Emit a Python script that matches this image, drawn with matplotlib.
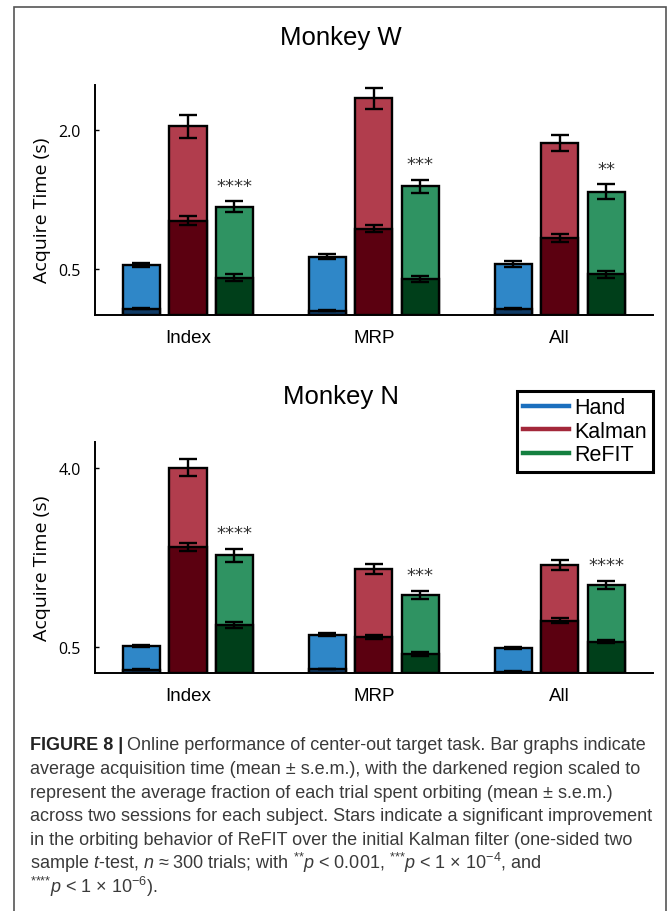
import numpy as np
import matplotlib.pyplot as plt
from matplotlib.patches import Rectangle
from matplotlib.lines import Line2D

plt.rcParams['mathtext.fontset'] = 'custom'
plt.rcParams['mathtext.rm'] = 'Liberation Sans'
plt.rcParams['mathtext.it'] = 'Liberation Sans:italic'

groups = ["Index", "MRP", "All"]
decoders = ["Hand", "Kalman", "ReFIT"]

# rows: Hand, Kalman, ReFIT ; columns: Index, MRP, All
W_total = np.array([[0.54, 0.63, 0.55],
                    [2.04, 2.34, 1.86],
                    [1.17, 1.39, 1.33]])
W_total_sem = np.array([[0.02, 0.025, 0.03],
                        [0.125, 0.11, 0.086],
                        [0.057, 0.07, 0.08]])
W_orbit = np.array([[0.07, 0.047, 0.07],
                    [1.02, 0.93, 0.83],
                    [0.405, 0.39, 0.44]])
W_orbit_sem = np.array([[0.005, 0.005, 0.005],
                        [0.045, 0.038, 0.045],
                        [0.035, 0.036, 0.04]])
W_stars = ["****", "***", "**"]

N_total = np.array([[0.53, 0.75, 0.49],
                    [4.0, 2.03, 2.1],
                    [2.29, 1.52, 1.72]])
N_total_sem = np.array([[0.02, 0.025, 0.02],
                        [0.17, 0.1, 0.1],
                        [0.13, 0.08, 0.08]])
N_orbit = np.array([[0.064, 0.078, 0.025],
                    [2.45, 0.70, 1.02],
                    [0.94, 0.37, 0.61]])
N_orbit_sem = np.array([[0.005, 0.005, 0.005],
                        [0.08, 0.04, 0.05],
                        [0.06, 0.03, 0.03]])
N_stars = ["****", "***", "****"]

light_cols = ["#2f87c8", "#b13d4d", "#2f9362"]
dark_cols = ["#0f3b66", "#5b0010", "#003f1a"]
legend_cols = ["#1b6fbe", "#a3283a", "#148040"]

W, H = 669, 912
fig = plt.figure(figsize=(W/100, H/100), dpi=100)

def panel(top, bottom, total, total_sem, orbit, orbit_sem, stars, ymax, yticks):
    ax = fig.add_axes([95/W, 1-bottom/H, (652.7-95)/W, (bottom-top)/H])
    xg = 4*np.arange(len(groups))
    for d in range(len(decoders)):
        x = xg + (d-1)
        ax.bar(x, total[d], 0.8, color=light_cols[d], edgecolor='k', lw=1.7, zorder=2)
        ax.bar(x, orbit[d], 0.8, color=dark_cols[d], edgecolor='k', lw=1.7, zorder=3)
        ax.errorbar(x, total[d], yerr=total_sem[d], fmt='none', ecolor='k',
                    elinewidth=1.7, capsize=6.5, capthick=1.7, zorder=4)
        ax.errorbar(x, orbit[d], yerr=orbit_sem[d], fmt='none', ecolor='k',
                    elinewidth=1.7, capsize=6.5, capthick=1.7, zorder=4)
    for g in range(len(groups)):
        ax.annotate(stars[g], (xg[g]+1, total[2][g]+total_sem[2][g]),
                    xytext=(0, 7.5), textcoords='offset points', ha='center',
                    va='baseline', fontsize=13, family='DejaVu Sans', color='#333333')
    ax.set_xlim(-2, 10)
    ax.set_ylim(0, ymax)
    ax.set_yticks(yticks)
    ax.set_yticklabels([f"{v:.1f}" for v in yticks], family='Open Sans', fontsize=11.5)
    ax.set_xticks(xg)
    ax.set_xticklabels(groups, family='Liberation Sans', fontsize=13.5)
    ax.tick_params(axis='x', length=0, pad=10)
    ax.tick_params(axis='y', direction='in', length=3, width=1, pad=10)
    for s in ['top', 'right']:
        ax.spines[s].set_visible(False)
    for s in ['left', 'bottom']:
        ax.spines[s].set_linewidth(1.4)
    return ax

axW = panel(86, 316, W_total, W_total_sem, W_orbit, W_orbit_sem, W_stars, 2.485, [0.5, 2.0])
axN = panel(443, 674, N_total, N_total_sem, N_orbit, N_orbit_sem, N_stars, 4.5, [0.5, 4.0])

fig.text(341/W, 1-38/H, "Monkey W", ha='center', va='center', fontsize=18.5, family='Liberation Sans')
fig.text(341/W, 1-397/H, "Monkey N", ha='center', va='center', fontsize=18.5, family='Liberation Sans')
fig.text(42/W, 1-210/H, "Acquire Time (s)", rotation=90, ha='center', va='center', fontsize=14, family='Open Sans')
fig.text(42/W, 1-568/H, "Acquire Time (s)", rotation=90, ha='center', va='center', fontsize=14, family='Open Sans')

handles = [Line2D([], [], color=c, lw=3.2) for c in legend_cols]
leg = axN.legend(handles, decoders, loc='upper right', bbox_to_anchor=(653/W, 1-391.7/H),
                 bbox_transform=fig.transFigure, borderaxespad=0, fancybox=False,
                 framealpha=1, edgecolor='k', prop={'family': 'Liberation Sans', 'size': 15.5},
                 handlelength=2.1, handletextpad=0.25, borderpad=0.3, labelspacing=0.12)
leg.get_frame().set_linewidth(2.2)

fig.add_artist(Rectangle((14/W, -0.01), (666-14)/W, (912-7.5)/H+0.01, transform=fig.transFigure,
                         fill=False, ec='#555555', lw=1.2))

times = "\u00d7"
approx = "\u2248"
pm = "\u00b1"
cap_lines = [
    "Online performance of center-out target task. Bar graphs indicate",
    f"average acquisition time (mean {pm} s.e.m.), with the darkened region scaled to",
    f"represent the average fraction of each trial spent orbiting (mean {pm} s.e.m.)",
    "across two sessions for each subject. Stars indicate a significant improvement",
    "in the orbiting behavior of ReFIT over the initial Kalman filter (one-sided two",
    "sample $t$-test, $n$ " + approx + " 300 trials; with $^{{*}{*}}p$ < 0.001, $^{{*}{*}{*}}p$ < 1 "
    + times + " 10$^{-4}$, and",
    "$^{{*}{*}{*}{*}}p$ < 1 " + times + " 10$^{-6}$).",
]
cap_size = 13
cap_col = '#3a3a3a'
x0 = 30/W
fig.canvas.draw()
r = fig.canvas.get_renderer()
t0 = fig.text(x0, 1-750/H, "FIGURE 8 |", fontsize=cap_size, weight='bold', family='Liberation Sans',
              color='#222222', va='baseline')
bb = t0.get_window_extent(renderer=r)
fig.text(bb.x1/W + 4/W, 1-750/H, cap_lines[0], fontsize=cap_size, family='Liberation Sans',
         color=cap_col, va='baseline')
for i, line in enumerate(cap_lines[1:]):
    fig.text(x0, 1-(750+23.8*(i+1))/H, line, fontsize=cap_size, family='Liberation Sans',
             color=cap_col, va='baseline')

fig.savefig("out.png", dpi=100)
